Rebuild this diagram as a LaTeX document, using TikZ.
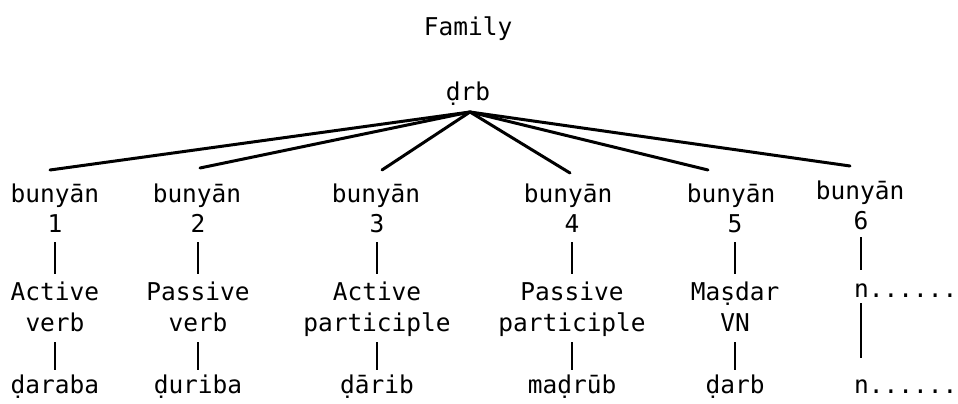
\documentclass[tikz,border=0pt]{standalone}
\usepackage{fontspec}
\newfontfamily\tw{DejaVu Sans Mono}
\begin{document}
\begin{tikzpicture}[x=1pt,y=-1pt,
  lbl/.style={anchor=base,inner sep=0pt,text height=18pt,text depth=6pt,
    font=\tw\fontsize{24.5}{30}\selectfont},
  lblw/.style={lbl,anchor=base west},
  fan/.style={line width=3pt,line cap=round},
  conn/.style={line width=2.3pt}]
\fill[white] (0,0) rectangle (958,404);
\useasboundingbox (0,0) rectangle (958,404);
% top
\node[lbl] (fam) at (468,36) {Family};
\node[lbl] (root) at (468,100) {ḍrb};
\coordinate (apex) at (470,112);
% column 1
\node[lbl] (b1) at (55,202) {bunyān};
\node[lbl] (n1) at (55,232) {1};
\node[lbl] (c1a) at (55,300) {Active};
\node[lbl] (c1b) at (55,331) {verb};
\node[lbl] (w1) at (55,393) {ḍaraba};
\coordinate (e1) at (50,170);
% column 2
\node[lbl] (b2) at (197,202) {bunyān};
\node[lbl] (n2) at (198,232) {2};
\node[lbl] (c2a) at (198,300) {Passive};
\node[lbl] (c2b) at (198,331) {verb};
\node[lbl] (w2) at (198,393) {ḍuriba};
\coordinate (e2) at (200,168);
% column 3
\node[lbl] (b3) at (376,202) {bunyān};
\node[lbl] (n3) at (377,232) {3};
\node[lbl] (c3a) at (377,300) {Active};
\node[lbl] (c3b) at (377,331) {participle};
\node[lbl] (w3) at (377,393) {ḍārib};
\coordinate (e3) at (382,170);
% column 4
\node[lbl] (b4) at (568,202) {bunyān};
\node[lbl] (n4) at (572,232) {4};
\node[lbl] (c4a) at (572,300) {Passive};
\node[lbl] (c4b) at (572,331) {participle};
\node[lbl] (w4) at (572,393) {maḍrūb};
\coordinate (e4) at (570,173);
% column 5
\node[lbl] (b5) at (731,202) {bunyān};
\node[lbl] (n5) at (735,232) {5};
\node[lbl] (c5a) at (735,300) {Maṣdar};
\node[lbl] (c5b) at (735,331) {VN};
\node[lbl] (w5) at (735,393) {ḍarb};
\coordinate (e5) at (708,170);
% column 6
\node[lbl] (b6) at (860,199) {bunyān};
\node[lbl] (n6) at (861,229) {6};
\node[lblw] (c6a) at (854,297) {n......};
\node[lblw] (w6) at (854,393) {n......};
\coordinate (e6) at (850,166);
% fan
\foreach \i in {1,...,6} \draw[fan] (apex) -- (e\i);
% vertical connectors
\foreach \i in {1,...,5} {
  \draw[conn,shorten <=4pt,shorten >=8pt] (n\i.south) -- (c\i a.north);
  \draw[conn,shorten <=5pt,shorten >=5pt] (c\i b.south) -- (w\i.north);
}
\draw[conn,shorten <=2pt,shorten >=9pt] (n6.south) -- (n6.south |- c6a.north);
\draw[conn,shorten >=17pt] (n6.south |- c6a.south) -- (n6.south |- w6.north);
\end{tikzpicture}
\end{document}
